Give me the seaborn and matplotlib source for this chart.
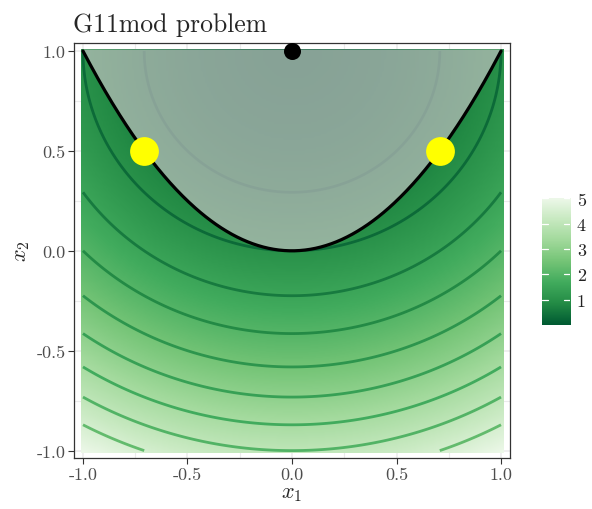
import numpy as np
import pandas as pd
import matplotlib
matplotlib.use("Agg")
import matplotlib.pyplot as plt
from matplotlib.colors import LinearSegmentedColormap
import seaborn as sns

# ---- data ----
title = "G11mod problem"
x_ticks = [-1.0, -0.5, 0.0, 0.5, 1.0]
x_tick_labels = ["-1.0", "-0.5", "0.0", "0.5", "1.0"]
y_ticks = [-1.0, -0.5, 0.0, 0.5, 1.0]
y_tick_labels = ["-1.0", "-0.5", "0.0", "0.5", "1.0"]
cbar_ticks = [1, 2, 3, 4, 5]
contour_levels = [0.5, 1.0, 1.5, 2.0, 2.5, 3.0, 3.5, 4.0, 4.5]
fill_range = [0.0, 5.0]
optimum_x = [-0.7071, 0.7071]
optimum_y = [0.5, 0.5]
unconstrained_x = [0.0]
unconstrained_y = [1.0]
greens7 = ["#edf8e9", "#c7e9c0", "#a1d99b", "#74c476", "#41ab5d", "#238b45", "#005a32"]

sns.set_theme(style="white")
plt.rcParams["font.family"] = ["cmr10", "DejaVu Serif"]
plt.rcParams["mathtext.fontset"] = "cm"
plt.rcParams["axes.unicode_minus"] = False

cmap = LinearSegmentedColormap.from_list("gr", greens7[::-1])

def objective(a, b):
    return a ** 2 + (b - 1) ** 2

fig = plt.figure(figsize=(5.92, 5.10), dpi=100)
ax = fig.add_axes([0.125, 0.1, 0.7365, 0.8137])

# grid lines (theme_bw-like)
for v in np.arange(-1.0, 1.01, 0.25):
    ax.axvline(v, color="#ebebeb", lw=0.8 if v * 2 % 1 else 1.1, zorder=0)
    ax.axhline(v, color="#ebebeb", lw=0.8 if v * 2 % 1 else 1.1, zorder=0)

g = np.linspace(-1.0, 1.0, 201)
X, Y = np.meshgrid(g, g)
Z = objective(X, Y)
ax.imshow(Z, extent=[-1.01, 1.01, -1.01, 1.01], origin="lower", cmap=cmap,
          vmin=fill_range[0], vmax=fill_range[1], interpolation="bilinear",
          aspect="auto", zorder=1)

line_cmap = LinearSegmentedColormap.from_list("grl", greens7[::-1])
line_colors = [line_cmap((lv - 0.5) / 9.0) for lv in contour_levels]
ax.contour(X, Y, Z, levels=contour_levels, colors=line_colors, linewidths=2.0, zorder=2)

# infeasible region
px = np.linspace(-1, 1, 400)
ax.fill_between(px, px ** 2, 1.01, color=(0.76, 0.76, 0.76), alpha=0.7, lw=0, zorder=3)

boundary = pd.DataFrame({"x1": px, "x2": px ** 2})
sns.lineplot(data=boundary, x="x1", y="x2", color="black", lw=2.3, ax=ax, zorder=4, sort=False)

opt = pd.DataFrame({"x1": optimum_x, "x2": optimum_y})
sns.scatterplot(data=opt, x="x1", y="x2", color="#ffff00", s=430, linewidth=0, ax=ax, zorder=5)
unc = pd.DataFrame({"x1": unconstrained_x, "x2": unconstrained_y})
sns.scatterplot(data=unc, x="x1", y="x2", color="black", s=150, linewidth=0, ax=ax, zorder=5)

ax.set_xlim(-1.043, 1.043)
ax.set_ylim(-1.037, 1.04)
ax.set_xticks(x_ticks)
ax.set_xticklabels(x_tick_labels)
ax.set_yticks(y_ticks)
ax.set_yticklabels(y_tick_labels)
ax.tick_params(axis="both", length=4, width=0.8, color="#333333", labelcolor="#4d4d4d",
               labelsize=13, pad=2, bottom=True, left=True)
for s in ax.spines.values():
    s.set_color("#333333")
    s.set_linewidth(0.9)
ax.set_xlabel("$x_1$", fontsize=16, labelpad=1)
ax.set_ylabel("$x_2$", fontsize=16, labelpad=3)
ax.set_title(title, loc="left", fontsize=18.5, pad=9, x=-0.003)

# colorbar
cax = fig.add_axes([0.9155, 0.361, 0.0473, 0.253])
grad = np.linspace(fill_range[0], fill_range[1], 300).reshape(-1, 1)
cax.imshow(grad, extent=[0, 1, fill_range[0], fill_range[1]], origin="lower", cmap=cmap,
           vmin=fill_range[0], vmax=fill_range[1], aspect="auto")
for t in cbar_ticks:
    cax.plot([0, 0.2], [t, t], color="white", lw=0.9)
    cax.plot([0.8, 1], [t, t], color="white", lw=0.9)
cax.set_xlim(0, 1)
cax.set_ylim(fill_range[0], fill_range[1] + 0.1)
cax.set_xticks([])
cax.yaxis.tick_right()
cax.set_yticks(cbar_ticks)
cax.set_yticklabels([str(t) for t in cbar_ticks])
cax.tick_params(axis="y", length=0, labelsize=13, pad=5, labelcolor="#222222")
for s in cax.spines.values():
    s.set_visible(False)

fig.savefig("out.png", dpi=100)
